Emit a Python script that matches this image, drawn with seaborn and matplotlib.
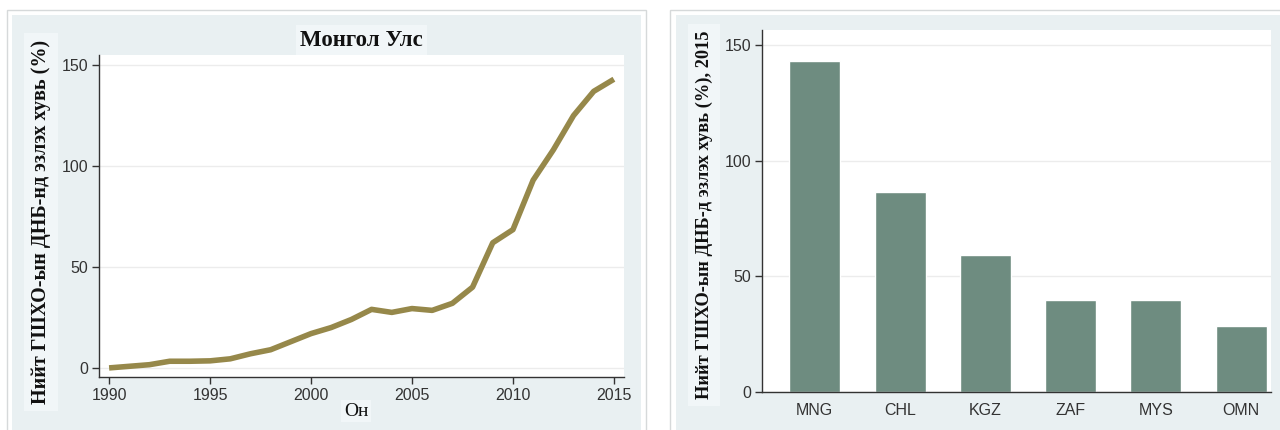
import matplotlib
matplotlib.use("Agg")
import matplotlib.pyplot as plt
from matplotlib.patches import Rectangle
import seaborn as sns
import pandas as pd

# Data
years = list(range(1990, 2016))
fdi_share = [0.0, 0.8, 1.6, 3.3, 3.3, 3.5, 4.5, 7.0, 9.0, 13.0, 17.0, 20.0, 24.0,
             29.0, 27.5, 29.4, 28.5, 32.0, 40.0, 62.0, 68.5, 93.0, 108.0, 125.0,
             137.0, 143.0]
countries = ['MNG', 'CHL', 'KGZ', 'ZAF', 'MYS', 'OMN']
share_2015 = [143.0, 86.4, 59.2, 39.8, 39.8, 28.6]

title_left = 'Монгол Улс'
ylabel_left = 'Нийт ГШХО-ын ДНБ-нд эзлэх хувь (%)'
xlabel_left = 'Он'
ylabel_right = 'Нийт ГШХО-ын ДНБ-д эзлэх хувь (%), 2015'

sns.set_theme(style='white')
plt.rcParams['font.family'] = ['Liberation Sans', 'DejaVu Sans']

W, H = 1280, 430
BLUE = '#e9f0f2'
BORDER = '#d6d9da'
LABEL_BOX = '#f1f6f8'
TEXT = '#333333'

fig = plt.figure(figsize=(W / 100, H / 100), dpi=100)
fig.patch.set_facecolor('white')


def px_rect(x0, y0, x1, y1, **kw):
    # pixel box (y from top) -> figure rectangle, kept behind the axes
    r = Rectangle((x0 / W, 1 - y1 / H), (x1 - x0) / W, (y1 - y0) / H,
                  transform=fig.transFigure, zorder=-10, **kw)
    fig.patches.append(r)


# panel plates
px_rect(7, 10, 646, 440, facecolor='white', edgecolor=BORDER, lw=1)
px_rect(12, 15, 641, 440, facecolor=BLUE, edgecolor='none')
px_rect(670, 10, 1295, 440, facecolor='white', edgecolor=BORDER, lw=1)
px_rect(676, 15, 1290, 440, facecolor=BLUE, edgecolor='none')


def px_axes(x0, y0, x1, y1):
    return fig.add_axes([x0 / W, 1 - y1 / H, (x1 - x0) / W, (y1 - y0) / H])


def style_axes(ax):
    ax.set_facecolor('white')
    for s in ['top', 'right']:
        ax.spines[s].set_visible(False)
    for s in ['left', 'bottom']:
        ax.spines[s].set_color(TEXT)
        ax.spines[s].set_linewidth(1.0)
    ax.yaxis.grid(True, color='#ececec', linewidth=1)
    ax.xaxis.grid(False)
    ax.set_axisbelow(True)
    ax.tick_params(axis='both', direction='out', length=5, width=1,
                   color=TEXT, labelcolor=TEXT, labelsize=11.5,
                   left=True, bottom=True, pad=3)


# left panel: line chart
ax1 = px_axes(99, 55, 624, 377)
df_line = pd.DataFrame({'year': years, 'share': fdi_share})
sns.lineplot(data=df_line, x='year', y='share', ax=ax1, color='#96884a',
             linewidth=4, solid_capstyle='butt')
style_axes(ax1)
ax1.set_xlim(1989.5, 2015.5)
ax1.set_ylim(-4.5, 155)
ax1.set_xticks([1990, 1995, 2000, 2005, 2010, 2015])
ax1.set_yticks([0, 50, 100, 150])
ax1.set_xlabel('')
ax1.set_ylabel('')
fig.text(361 / W, 1 - 40 / H, title_left, ha='center', va='center',
         family='Liberation Serif', weight='bold', fontsize=16.5, color='#111111',
         bbox=dict(facecolor=LABEL_BOX, edgecolor='none', pad=3))
fig.text(356 / W, 1 - 411 / H, xlabel_left, ha='center', va='center',
         family='Liberation Serif', fontsize=14, color='#111111',
         bbox=dict(facecolor=LABEL_BOX, edgecolor='none', pad=2))
fig.text(41 / W, 1 - 222 / H, ylabel_left, ha='center', va='center',
         rotation=90, family='Liberation Serif', weight='bold', fontsize=14.5,
         color='#111111',
         bbox=dict(facecolor=LABEL_BOX, edgecolor='none', pad=5))

# right panel: bar chart
ax2 = px_axes(762, 30, 1271, 392)
df_bar = pd.DataFrame({'country': countries, 'share': share_2015})
sns.barplot(data=df_bar, x='country', y='share', ax=ax2, color='#6e8c80',
            width=0.6, saturation=1)
style_axes(ax2)
ax2.tick_params(axis='x', length=0, pad=8)
ax2.set_xlim(-0.62, 5.35)
ax2.set_ylim(0, 156.5)
ax2.set_yticks([0, 50, 100, 150])
ax2.set_xlabel('')
ax2.set_ylabel('')
fig.text(704 / W, 1 - 215 / H, ylabel_right, ha='center', va='center',
         rotation=90, family='Liberation Serif', weight='bold', fontsize=13.2,
         color='#111111',
         bbox=dict(facecolor=LABEL_BOX, edgecolor='none', pad=5))

fig.savefig('out.png', dpi=100)
